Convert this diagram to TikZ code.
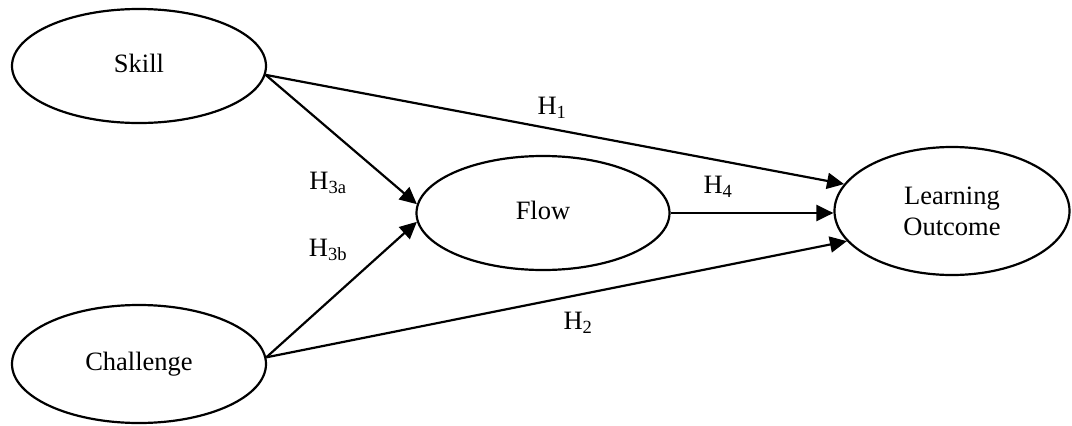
\documentclass[tikz,border=0pt]{standalone}
\usepackage{fontspec}
\setmainfont{Liberation Serif}
\usetikzlibrary{shapes.geometric,arrows.meta}
\begin{document}
\begin{tikzpicture}[x=1pt,y=-1pt,
  construct/.style={ellipse,draw,line width=2.2pt,inner sep=0pt,
    font=\fontsize{26.5}{31}\selectfont,text depth=0.6em},
  path/.style={line width=2.2pt,-{Triangle[length=17pt,width=16pt]}},
  hyp/.style={font=\fontsize{26.5}{31}\selectfont,inner sep=0pt}]
\useasboundingbox (0,0) rectangle (1072,426);
\node[construct,minimum width=254pt,minimum height=114pt] (skill) at (139,66) {Skill};
\node[construct,minimum width=254pt,minimum height=118pt] (chal) at (139,364) {Challenge};
\node[construct,minimum width=253pt,minimum height=114pt] (flow) at (543,213) {Flow};
\node[construct,minimum width=235pt,minimum height=128pt,align=center,text depth=0pt] (lo) at (952,211) {Learning\\Outcome};
\draw[path] (skill.-4) -- (lo.166);
\draw[path] (skill.-4) -- (flow.176);
\draw[path] (chal.3) -- (flow.184.5);
\draw[path] (chal.3) -- (lo.196);
\draw[path] (flow.east) -- (flow.east -| lo.west);
\node[hyp] (h1) at (552,108) {H\textsubscript{1}};
\node[hyp] (h3a) at (328,183) {H\textsubscript{3a}};
\node[hyp] (h3b) at (328,250) {H\textsubscript{3b}};
\node[hyp] (h4) at (718,187) {H\textsubscript{4}};
\node[hyp] (h2) at (578,323) {H\textsubscript{2}};
\end{tikzpicture}
\end{document}
